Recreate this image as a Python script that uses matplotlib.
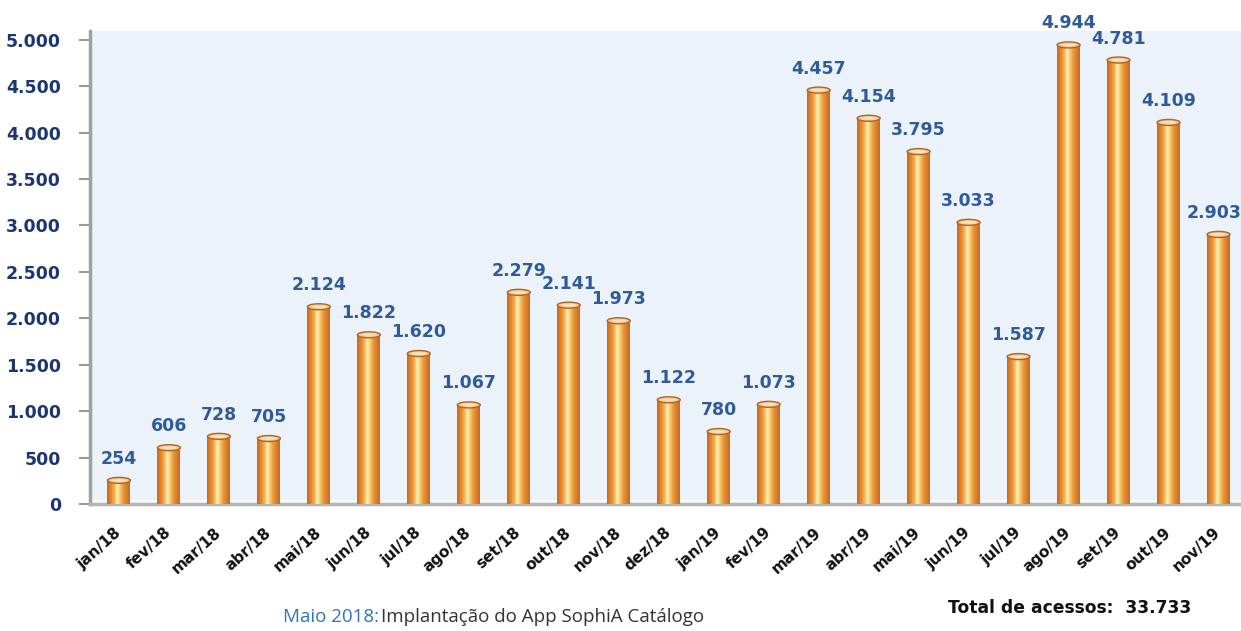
import numpy as np
import matplotlib
matplotlib.use('Agg')
import matplotlib.pyplot as plt
import matplotlib.transforms as mtransforms
from matplotlib.colors import LinearSegmentedColormap
from matplotlib.patches import Ellipse

meses = ["jan/18", "fev/18", "mar/18", "abr/18", "mai/18", "jun/18", "jul/18", "ago/18",
         "set/18", "out/18", "nov/18", "dez/18", "jan/19", "fev/19", "mar/19", "abr/19",
         "mai/19", "jun/19", "jul/19", "ago/19", "set/19", "out/19", "nov/19"]
acessos = [254, 606, 728, 705, 2124, 1822, 1620, 1067, 2279, 2141, 1973, 1122,
           780, 1073, 4457, 4154, 3795, 3033, 1587, 4944, 4781, 4109, 2903]
yticks = [0, 500, 1000, 1500, 2000, 2500, 3000, 3500, 4000, 4500, 5000]
total = "33.733"

fig = plt.figure(figsize=(12.41, 6.31), dpi=100)
ax = fig.add_axes([0.0725, 0.2013, 0.9275, 0.749])

x = np.arange(len(meses))
w = 0.46
ymax = 5090
ax.set_xlim(-0.58, 22.45)
ax.set_ylim(0, ymax)
ax.set_facecolor("#ecf2f9")

# cylinder gradient
cyl = LinearSegmentedColormap.from_list("cyl", [
    (0.0, "#c8681e"), (0.18, "#e58a30"), (0.33, "#f7b352"),
    (0.45, "#fff3c2"), (0.55, "#fbd17a"), (0.72, "#eb9638"), (1.0, "#c46a22")])
grad = np.linspace(0, 1, 64).reshape(1, -1)

bars = ax.bar(x, acessos, width=w, color="none", edgecolor="none", zorder=3)
cap_h = 65
for i, (b, v) in enumerate(zip(bars, acessos)):
    x0 = b.get_x()
    ax.imshow(grad, cmap=cyl, aspect="auto", extent=(x0, x0 + w, 0, v), zorder=3,
              interpolation="bilinear")
    ax.add_patch(Ellipse((x0 + w / 2, v), w, cap_h, facecolor="#f3c48a",
                         edgecolor="#b0652a", lw=1.0, zorder=4))
    ax.add_patch(Ellipse((x0 + w / 2, v), w * 0.7, cap_h * 0.5, facecolor="#fbe2bb",
                         edgecolor="none", zorder=4))
    lbl = f"{v:,}".replace(",", ".")
    dx = -3 if i == len(acessos) - 1 else 0  # keep last label inside the picture
    ax.annotate(lbl, (x0 + w / 2, v), xytext=(dx, 9), textcoords="offset points",
                ha="center", va="bottom", fontsize=12.5, fontweight="bold",
                color="#2f5b9b", zorder=5, annotation_clip=False)

# floor strip
ax.axhspan(0, 45, color="#f7f9fc", zorder=2)

ax.set_yticks(yticks)
ax.set_yticklabels([f"{t:,}".replace(",", ".") for t in yticks],
                   fontsize=12.5, fontweight="bold", color="#1c3670")
ax.set_xticks(x)
ax.set_xticklabels(meses, rotation=42, ha="right", rotation_mode="anchor",
                   fontsize=11, fontweight="bold", color="#111111")
ax.tick_params(axis="x", length=0, pad=15)
ax.tick_params(axis="y", length=8, width=1.5, color="#9a9a9a", pad=13)
shift = mtransforms.ScaledTranslation(-0.05, 0.0, fig.dpi_scale_trans)
for t in ax.get_xticklabels():
    t.set_transform(t.get_transform() + shift)

for s in ["top", "right"]:
    ax.spines[s].set_visible(False)
ax.spines["left"].set_color("#a0a0a0")
ax.spines["left"].set_linewidth(2.5)
ax.spines["bottom"].set_color("#b5b5b5")
ax.spines["bottom"].set_linewidth(2.5)

t1 = fig.text(0.228, 0.008, "Maio 2018:", fontsize=13.5, color="#2e75b6",
              family="Open Sans", ha="left", va="bottom")
fig.canvas.draw()
bb = t1.get_window_extent()
fig.text(bb.x1 / fig.bbox.width + 0.002, 0.008, "Implantação do App SophiA Catálogo",
         fontsize=13.5, color="#333333", family="Open Sans", ha="left", va="bottom")
fig.text(0.764, 0.022, f"Total de acessos:  {total}", fontsize=12.3, fontweight="bold",
         color="#111111", ha="left", va="bottom")

plt.savefig("out.png", dpi=100)
